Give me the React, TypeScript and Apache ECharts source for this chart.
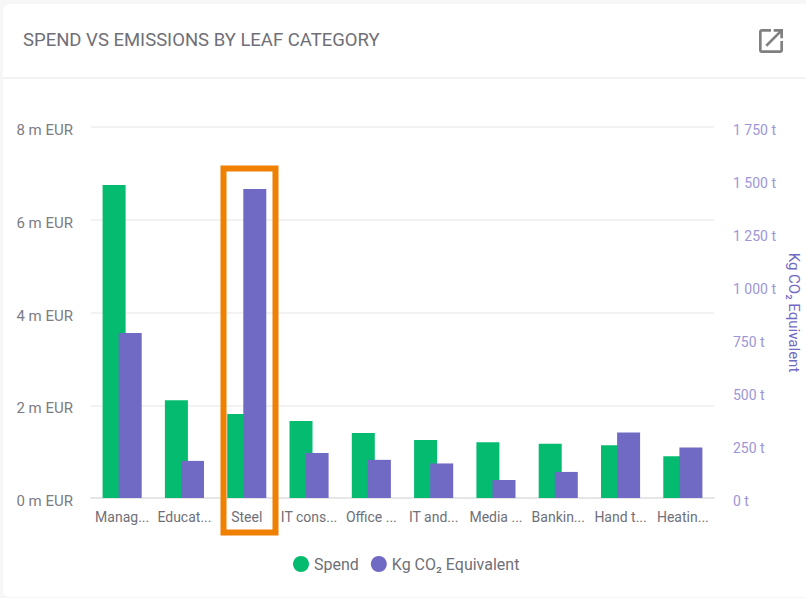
import React, { useEffect, useRef } from "react";
import * as echarts from "echarts";

const categories = ["Manag...", "Educat...", "Steel", "IT cons...", "Office ...", "IT and...", "Media ...", "Bankin...", "Hand t...", "Heatin..."];
const spend = [6.75, 2.11, 1.81, 1.66, 1.4, 1.25, 1.2, 1.17, 1.14, 0.9];
const emissions = [778, 175, 1457, 212, 180, 163, 85, 123, 309, 238];
const seriesNames = ["Spend", "Kg CO₂ Equivalent"];
const titleText = "SPEND VS EMISSIONS BY LEAF CATEGORY";

const FONT = "Roboto, sans-serif";
const GREEN = "#04bb70";
const PURPLE = "#716ac4";

echarts.graphic.registerShape(
  "openNew",
  echarts.graphic.extendPath(
    "M19 19H5V5h7V3H5c-1.11 0-2 .9-2 2v14c0 1.1.89 2 2 2h14c1.1 0 2-.9 2-2v-7h-2v7zM14 3v2h3.59l-9.83 9.83 1.41 1.41L19 6.41V10h2V3h-7z",
    {}
  )
);

export default function App() {
  const ref = useRef<HTMLDivElement>(null);
  useEffect(() => {
    document.body.style.margin = "0";
    document.body.style.background = "#f6f6f6";
    const chart = echarts.init(ref.current!, null, { renderer: "svg" });
    chart.setOption({
      animation: false,
      backgroundColor: "transparent",
      textStyle: { fontFamily: FONT },
      title: {
        text: titleText,
        left: 18,
        top: 25,
        textStyle: { fontFamily: FONT, fontSize: 18.5, fontWeight: 400, color: "#6f6f78" },
      },
      legend: {
        top: 556,
        left: 288,
        icon: "circle",
        itemWidth: 16,
        itemHeight: 16,
        itemGap: 12,
        data: seriesNames,
        textStyle: { fontFamily: FONT, fontSize: 16, color: "#6f6f78" },
        padding: [0, 5, 5, 5],
      },
      grid: { left: 91, right: 92, top: 127, bottom: 100, outerBoundsMode: "none" },
      xAxis: {
        type: "category",
        data: categories,
        axisTick: { show: false },
        axisLine: { lineStyle: { color: "#e6e6e8", width: 2 } },
        axisLabel: { interval: 0, margin: 12, fontFamily: FONT, fontSize: 14, color: "#6f6f78" },
      },
      yAxis: [
        {
          type: "value",
          min: 0,
          max: 8,
          interval: 2,
          axisLine: { show: false },
          axisTick: { show: false },
          splitLine: { lineStyle: { color: "#eeeeee", width: 1.5 } },
          axisLabel: {
            margin: 18,
            verticalAlign: "top",
            lineHeight: 6,
            fontFamily: FONT,
            fontSize: 15,
            color: "#7c7c84",
            formatter: (v: number) => `${v} m EUR`,
          },
        },
        {
          type: "value",
          min: 0,
          max: 1750,
          interval: 250,
          position: "right",
          axisLine: { show: false },
          axisTick: { show: false },
          splitLine: { show: false },
          name: seriesNames[1],
          nameLocation: "middle",
          nameRotate: -90,
          nameGap: 72,
          nameTextStyle: { fontFamily: FONT, fontSize: 15, color: PURPLE },
          axisLabel: {
            margin: 19,
            verticalAlign: "top",
            lineHeight: 6,
            fontFamily: FONT,
            fontSize: 14,
            color: "#9d96d8",
            formatter: (v: number) => `${String(v).replace(/\B(?=(\d{3})+$)/g, " ")} t`,
          },
        },
      ],
      series: [
        {
          name: seriesNames[0],
          type: "bar",
          yAxisIndex: 0,
          data: spend,
          barWidth: 23,
          barGap: "-30%",
          itemStyle: { color: GREEN },
        },
        {
          name: seriesNames[1],
          type: "bar",
          yAxisIndex: 1,
          data: emissions,
          barWidth: 23,
          barGap: "-30%",
          itemStyle: { color: PURPLE },
        },
      ],
      graphic: [
        { type: "line", shape: { x1: 3, y1: 78, x2: 806, y2: 78 }, style: { stroke: "#eeeeee", lineWidth: 1.5 } },
        { type: "openNew", x: 755, y: 25, scaleX: 1.333, scaleY: 1.333, style: { fill: "#808080" } },
        {
          type: "rect",
          shape: { x: 223.5, y: 168.5, width: 52, height: 364 },
          style: { fill: "none", stroke: "#f08000", lineWidth: 6 },
          z: 100,
        },
      ],
    });
    return () => chart.dispose();
  }, []);
  return (
    <div style={{ position: "relative", width: 806, height: 598, overflow: "hidden" }}>
      <div
        style={{
          position: "absolute",
          left: 3,
          top: 4,
          width: 840,
          height: 593,
          background: "#ffffff",
          borderRadius: 6,
        }}
      />
      <div ref={ref} style={{ position: "absolute", left: 0, top: 0, width: 806, height: 598 }} />
    </div>
  );
}
